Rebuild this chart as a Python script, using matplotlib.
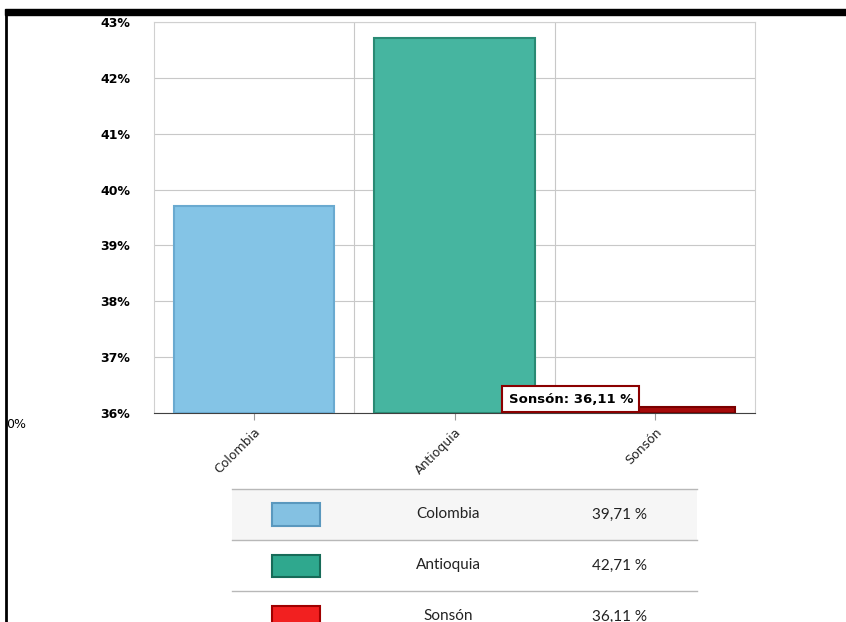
import matplotlib
matplotlib.use("Agg")
import matplotlib.pyplot as plt
from matplotlib.patches import Rectangle
from matplotlib.lines import Line2D
from matplotlib.ticker import FuncFormatter

# datos
regiones = ["Colombia", "Antioquia", "Sonsón"]
valores = [39.71, 42.71, 36.11]
etiquetas_valor = ["39,71 %", "42,71 %", "36,11 %"]
colores_barra = ["#84C4E6", "#46B5A0", "#A50A0A"]
bordes_barra = ["#6AAAD0", "#2A8A74", "#7A0000"]
colores_leyenda = ["#84C1E2", "#2FA88E", "#F22020"]
bordes_leyenda = ["#5A98BE", "#176B58", "#A00000"]

W, H = 846, 622
fig = plt.figure(figsize=(W / 100, H / 100), dpi=100)

def fx(px):
    return px / W

def fy(py):
    return 1 - py / H

ax = fig.add_axes([fx(154), fy(413), fx(755) - fx(154), fy(22) - fy(413)])
x = list(range(len(regiones)))
ax.bar(x, [v - 36 for v in valores], bottom=36, width=0.8,
       color=colores_barra, edgecolor=bordes_barra, linewidth=1.5, zorder=3)
ax.set_xlim(-0.5, 2.5)
ax.set_ylim(36, 43)
ax.set_yticks(range(36, 44))
ax.yaxis.set_major_formatter(FuncFormatter(lambda v, p: f"{int(v)}%"))
ax.grid(axis="y", color="#c8c8c8", linewidth=0.8, zorder=0)
for b in [0.5, 1.5]:
    ax.axvline(b, color="#c8c8c8", linewidth=0.8, zorder=0)
for s in ["top", "right", "left"]:
    ax.spines[s].set_color("#d0d0d0")
ax.spines["bottom"].set_color("#404040")
ax.tick_params(axis="y", length=0, pad=17, labelsize=9)
for lab in ax.get_yticklabels():
    lab.set_fontweight("bold")
ax.set_xticks(x)
ax.set_xticklabels(regiones, rotation=45, ha="right", rotation_mode="anchor",
                   fontsize=9, color="#222222")
ax.tick_params(axis="x", length=5, color="#999999", pad=4)

# tooltip
ax.text(1.58, 36.25, "Sonsón: 36,11 %", ha="center", va="center",
        fontsize=9.5, fontweight="bold",
        bbox=dict(boxstyle="square,pad=0.5", fc="white", ec="#8B0000", lw=1.5),
        zorder=5)

# marco de la captura
fig.add_artist(Rectangle((fx(5), fy(15)), 1 - fx(5), fy(9) - fy(15),
                         transform=fig.transFigure, color="black"))
fig.add_artist(Line2D([fx(6), fx(6)], [0, fy(15)], transform=fig.transFigure,
                      color="black", lw=2))
fig.text(fx(6), fy(425), "0%", fontsize=9, va="center", ha="left")

# tabla de leyenda
tx0, tx1 = 232, 697
filas = [489, 540, 591]
alto = 51
fig.add_artist(Rectangle((fx(tx0), fy(filas[0] + alto)), fx(tx1) - fx(tx0),
                         fy(filas[0]) - fy(filas[0] + alto),
                         transform=fig.transFigure, color="#f6f6f6", lw=0))
for i, top in enumerate(filas):
    fig.add_artist(Line2D([fx(tx0), fx(tx1)], [fy(top), fy(top)],
                          transform=fig.transFigure, color="#b8b8b8", lw=1))
    cy = top + alto / 2
    fig.add_artist(Rectangle((fx(272), fy(cy + 11)), fx(320) - fx(272), fy(cy - 11) - fy(cy + 11),
                             transform=fig.transFigure, fc=colores_leyenda[i],
                             ec=bordes_leyenda[i], lw=1.5))
    fig.text(fx(448), fy(cy), regiones[i], ha="center", va="center",
             fontsize=11, family="Lato", color="#222222")
    fig.text(fx(620), fy(cy), etiquetas_valor[i], ha="center", va="center",
             fontsize=11, family="Lato", color="#222222")

fig.savefig("out.png", dpi=100)
